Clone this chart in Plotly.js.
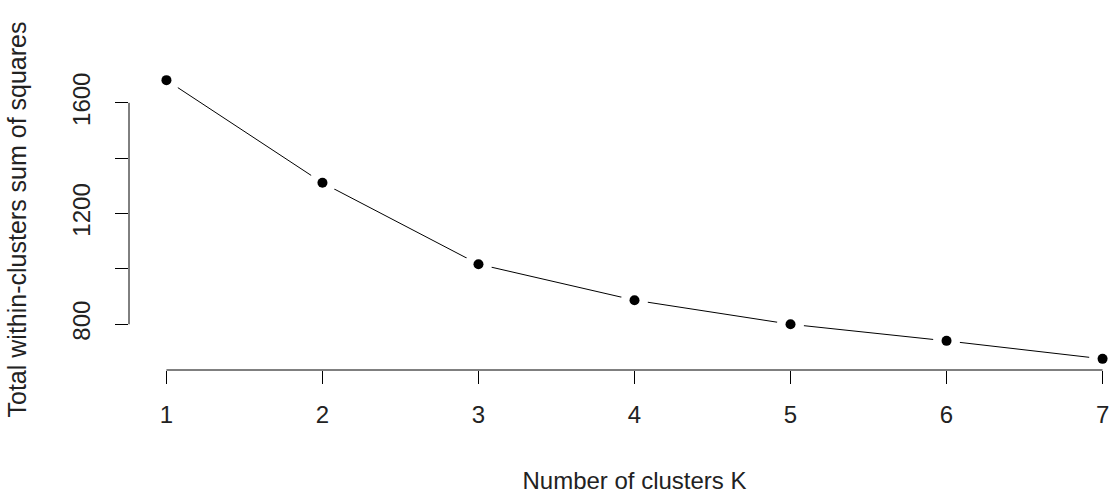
<!DOCTYPE html>
<html>
<head>
<meta charset="utf-8">
<script src="https://cdn.plot.ly/plotly-3.0.1.min.js"></script>
<style>
  html, body { margin: 0; padding: 0; background: #fff; overflow: hidden; }
  #chart { width: 1150px; height: 494px; }
</style>
</head>
<body>
<div id="chart"></div>
<script>
// Elbow curve: total within-cluster sum of squares by number of clusters
const clustersK = [1, 2, 3, 4, 5, 6, 7];
const withinSS = [1682, 1311, 1017, 887, 800, 740, 675];

// y-axis ticks (labels only on every other tick)
const yTickVals = [800, 1000, 1200, 1400, 1600];
const yTickText = ['800', '', '1200', '', '1600'];

const font = { family: 'Liberation Sans, Arial, sans-serif', size: 24, color: '#222' };
const yTitleFont = { family: 'Liberation Sans, Arial, sans-serif', size: 25, color: '#222' };

// data range padded by 4% on each side
function padded(vals) {
  const lo = Math.min(...vals), hi = Math.max(...vals), d = (hi - lo) * 0.04;
  return [lo - d, hi + d];
}

const traces = [
  { // connecting line
    x: clustersK, y: withinSS, mode: 'lines', type: 'scatter',
    line: { color: '#000', width: 1 }, hoverinfo: 'skip', cliponaxis: false
  },
  { // white halo that opens a gap in the line around each point
    x: clustersK, y: withinSS, mode: 'markers', type: 'scatter',
    marker: { color: '#fff', size: 27, line: { width: 0 } }, hoverinfo: 'skip', cliponaxis: false
  },
  { // the points
    x: clustersK, y: withinSS, mode: 'markers', type: 'scatter',
    marker: { color: '#000', size: 10, line: { width: 0 } }, cliponaxis: false
  }
];

const layout = {
  width: 1150, height: 494,
  margin: { l: 129, r: 10, t: 69, b: 124 },
  paper_bgcolor: '#fff', plot_bgcolor: '#fff',
  showlegend: false,
  font: font,
  xaxis: {
    range: padded(clustersK),
    tickvals: clustersK,
    ticks: 'outside', ticklen: 13, tickwidth: 1, tickcolor: '#000',
    ticklabelstandoff: 10,
    showline: false, showgrid: false, zeroline: false,
    tickfont: font,
    title: { text: 'Number of clusters K', font: font, standoff: 46 }
  },
  yaxis: {
    range: padded(withinSS),
    tickvals: yTickVals, ticktext: yTickText,
    tickangle: -90,
    ticks: 'outside', ticklen: 13, tickwidth: 1, tickcolor: '#000',
    ticklabelstandoff: 15,
    showline: false, showgrid: false, zeroline: false,
    tickfont: font,
    title: { text: 'Total within-clusters sum of squares', font: yTitleFont, standoff: 34 }
  },
  shapes: [
    { // x axis line spans first to last tick
      type: 'line', xref: 'x', yref: 'paper',
      x0: clustersK[0], x1: clustersK[clustersK.length - 1], y0: 0, y1: 0,
      line: { color: '#000', width: 1 }
    },
    { // y axis line spans first to last tick
      type: 'line', xref: 'paper', yref: 'y',
      x0: 0, x1: 0, y0: yTickVals[0], y1: yTickVals[yTickVals.length - 1],
      line: { color: '#000', width: 1 }
    }
  ]
};

Plotly.newPlot('chart', traces, layout, { displayModeBar: false, staticPlot: true });
</script>
</body>
</html>
